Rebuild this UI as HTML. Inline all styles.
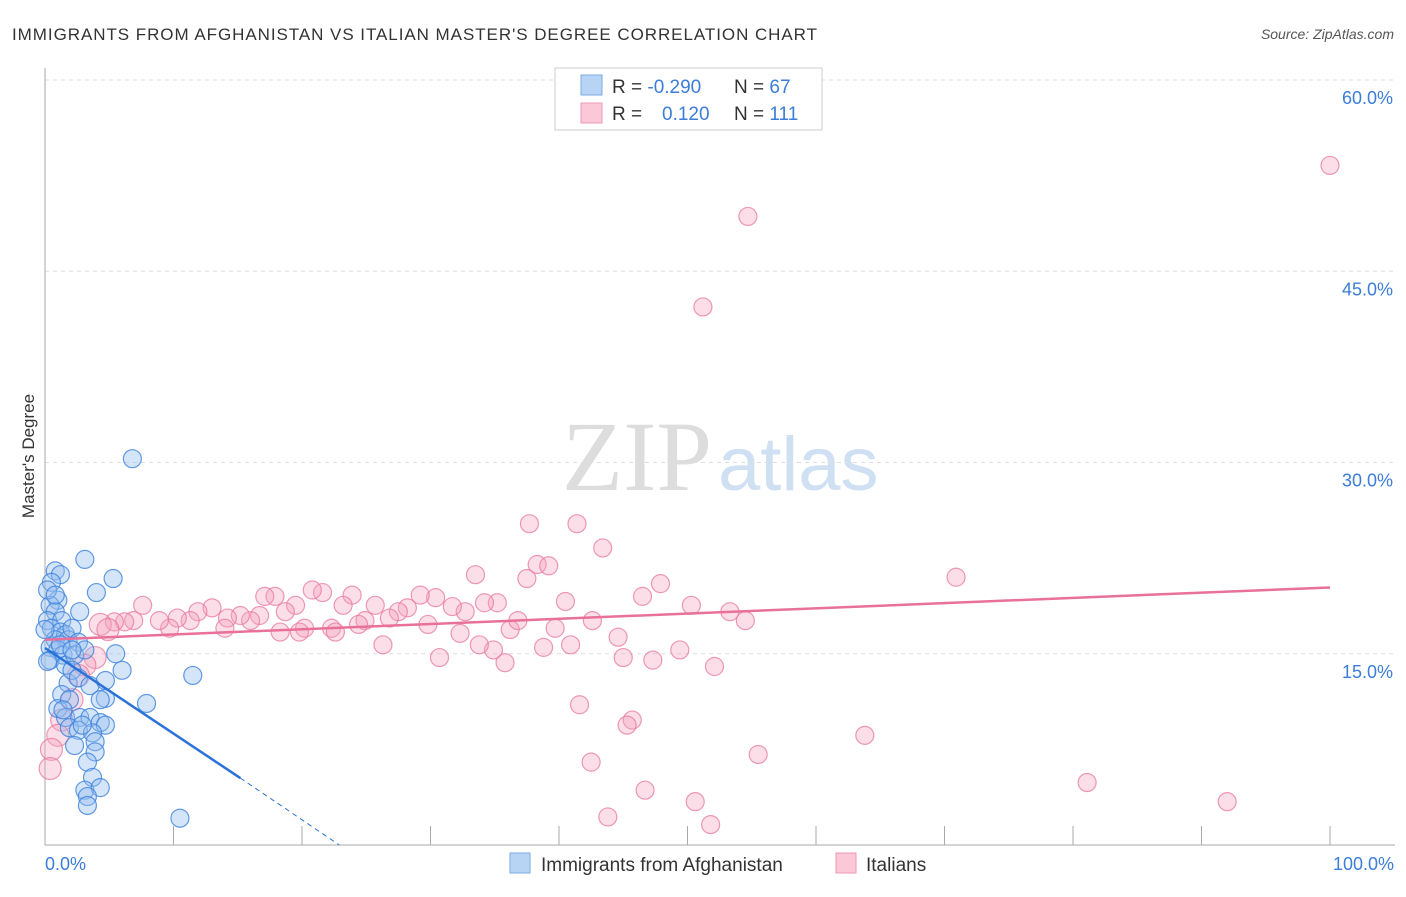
<!DOCTYPE html>
<html><head><meta charset="utf-8"><style>
body{margin:0;background:#fff;font-family:"Liberation Sans",sans-serif}
</style></head><body>
<svg id="c" width="1406" height="892" xmlns="http://www.w3.org/2000/svg">
<text x="12" y="40" font-size="17" fill="#333" textLength="805">IMMIGRANTS FROM AFGHANISTAN VS ITALIAN MASTER'S DEGREE CORRELATION CHART</text>
<text x="1394" y="39" font-size="14" fill="#555" font-style="italic" text-anchor="end">Source: ZipAtlas.com</text>
<text x="712" y="490" font-size="100" fill="#ddd" text-anchor="end" font-family="Liberation Serif,serif">ZIP</text>
<text x="718" y="490" font-size="76" fill="#cfe0f3">atlas</text>
<g id="grid"></g>
<line x1="45" y1="68" x2="45" y2="845" stroke="#aaa"/>
<line x1="45" y1="845" x2="1395" y2="845" stroke="#aaa"/>
<text transform="translate(34,456) rotate(-90)" font-size="17" fill="#333" text-anchor="middle">Master's Degree</text>
<text x="45" y="870" font-size="18" fill="#3b7dd8">0.0%</text>
<text x="1394" y="870" font-size="18" fill="#3b7dd8" text-anchor="end">100.0%</text>
<g id="pts"></g>
<g id="lines"></g>
<g>
<rect x="555" y="68" width="267" height="62" fill="#fff" stroke="#ccc"/>
<rect x="581" y="75" width="21" height="20" fill="#b8d4f5" stroke="#7aaae0"/>
<rect x="581" y="103" width="21" height="20" fill="#fbc8d8" stroke="#ee9ab5"/>
<text x="612" y="93" font-size="19" fill="#333">R = <tspan fill="#3b7dd8">-0.290</tspan><tspan x="734">N = </tspan><tspan fill="#3b7dd8">67</tspan></text>
<text x="612" y="120" font-size="19" fill="#333">R = <tspan x="662" fill="#3b7dd8">0.120</tspan><tspan x="734">N = </tspan><tspan fill="#3b7dd8">111</tspan></text>
</g>
<g>
<rect x="510" y="853" width="20" height="20" fill="#b8d4f5" stroke="#7aaae0"/>
<text x="541" y="871" font-size="19" fill="#333">Immigrants from Afghanistan</text>
<rect x="836" y="853" width="20" height="20" fill="#fbc8d8" stroke="#ee9ab5"/>
<text x="866" y="871" font-size="19" fill="#333">Italians</text>
</g>
</svg>
<script>
const yTicks=[15,30,45,60];
const xTicks=[10,20,30,40,50,60,70,80,90,100];
const blueX=[0.8,1.2,0.5,1.0,0.4,0.8,0.2,1.3,0.5,1.2,1.6,0.8,1.8,0.4,1.0,1.4,2.1,2.6,0.4,1.6,2.3,3.1,2.7,4.0,5.3,3.1,6.8,1.8,1.3,2.1,2.6,3.5,4.7,4.7,5.5,6.0,7.9,11.5,1.0,1.6,2.7,3.5,4.3,4.7,1.9,2.6,3.7,3.9,2.3,3.9,3.3,3.7,3.1,4.3,3.3,3.3,10.5,0.2,0.0,0.2,0.8,1.2,1.9,1.4,2.9,2.1,4.3];
const blueY=[21.5,21.2,20.6,19.2,18.8,18.3,17.6,17.6,17.0,16.7,16.5,16.1,16.1,15.5,15.3,14.9,17.0,15.9,14.5,14.1,14.9,15.3,18.3,19.8,20.9,22.4,30.3,12.7,11.8,13.7,13.1,12.5,11.5,12.9,15.0,13.7,11.1,13.3,10.7,10.0,10.0,10.0,9.6,9.4,9.2,9.0,8.8,8.1,7.8,7.3,6.5,5.3,4.3,4.5,3.8,3.1,2.1,14.4,16.9,20.0,19.6,15.7,11.4,10.6,9.4,15.3,11.4];
const pinkX=[100,54.7,51.2,70.9,37.7,41.4,43.4,33.5,38.3,39.2,37.5,47.9,46.5,40.5,50.3,53.3,54.5,42.6,44.6,49.4,52.1,45.0,47.3,40.9,38.8,35.8,34.9,33.8,30.7,26.3,32.3,36.2,36.8,35.2,34.2,32.7,31.7,30.4,29.2,28.2,27.5,26.8,25.7,24.9,23.9,23.2,21.6,20.8,19.5,18.7,17.9,17.1,16.7,16.0,15.2,14.2,13.0,11.9,11.3,10.3,9.7,8.9,7.6,6.9,6.2,5.4,4.3,4.9,14.0,18.3,20.2,22.3,24.4,22.6,29.8,39.7,19.8,3.9,3.1,2.6,2.1,1.3,1.0,0.5,0.4,41.6,45.7,45.3,55.5,63.8,42.5,46.7,50.6,43.8,51.8,81.1,92.0];
const pinkY=[53.3,49.3,42.2,21.0,25.2,25.2,23.3,21.2,22.0,21.9,20.9,20.5,19.5,19.1,18.8,18.3,17.6,17.6,16.3,15.3,14.0,14.7,14.5,15.7,15.5,14.3,15.3,15.7,14.7,15.7,16.6,16.9,17.6,19.0,19.0,18.3,18.7,19.4,19.6,18.6,18.3,17.8,18.8,17.6,19.6,18.8,19.8,20.0,18.8,18.3,19.5,19.5,18.0,17.6,18.0,17.8,18.6,18.3,17.6,17.8,17.0,17.6,18.8,17.6,17.5,17.5,17.3,16.9,17.0,16.7,17.0,17.0,17.3,16.7,17.3,17.0,16.7,14.7,14.1,13.3,11.4,9.8,8.6,7.5,6.0,11.0,9.8,9.4,7.1,8.6,6.5,4.3,3.4,2.2,1.6,4.9,3.4];
const blueTrend=[[0,15.45],[15.2,5.25]], blueDash=[[15.2,5.25],[22.9,0]];
const pinkTrend=[[0,16.1],[100,20.2]];
const X=v=>45+v*12.85, Y=v=>845-v*12.75;
const NS='http://www.w3.org/2000/svg';
function mk(t,a,p){const e=document.createElementNS(NS,t);for(const k in a)e.setAttribute(k,a[k]);p.appendChild(e);return e;}
const g=document.getElementById('grid');
yTicks.forEach(t=>{const l=mk('line',{x1:45,x2:1395,y1:Y(t),y2:Y(t),stroke:'#ddd','stroke-dasharray':'4,4'},g);


const tx=mk('text',{x:1393,y:Y(t)+24,'font-size':18,fill:'#3b7dd8','text-anchor':'end'},g);tx.textContent=t.toFixed(1)+'%';

});
xTicks.forEach(t=>{const l=mk('line',{x1:X(t),x2:X(t),y1:826,y2:845,stroke:'#aaa'},g);

});
const pg=document.getElementById('pts');
pinkX.forEach((v,i)=>{const c=mk('circle',{cx:X(v),cy:Y(pinkY[i]),r:v<5?11:9,fill:'rgba(244,160,190,0.35)',stroke:'rgba(232,120,158,0.75)','stroke-width':1.2},pg);

});
blueX.forEach((v,i)=>{const c=mk('circle',{cx:X(v),cy:Y(blueY[i]),r:9,fill:'rgba(150,190,240,0.4)',stroke:'rgba(60,130,220,0.8)','stroke-width':1.2},pg);

});
const lg=document.getElementById('lines');
let l=mk('line',{x1:X(pinkTrend[0][0]),y1:Y(pinkTrend[0][1]),x2:X(pinkTrend[1][0]),y2:Y(pinkTrend[1][1]),stroke:'#e8709a','stroke-width':2.5},lg);


l=mk('line',{x1:X(blueTrend[0][0]),y1:Y(blueTrend[0][1]),x2:X(blueTrend[1][0]),y2:Y(blueTrend[1][1]),stroke:'#2a72d8','stroke-width':2.5},lg);


l=mk('line',{x1:X(blueDash[0][0]),y1:Y(blueDash[0][1]),x2:X(blueDash[1][0]),y2:Y(blueDash[1][1]),stroke:'#2a72d8','stroke-width':1,'stroke-dasharray':'5,4'},lg);


</script>
</body></html>
